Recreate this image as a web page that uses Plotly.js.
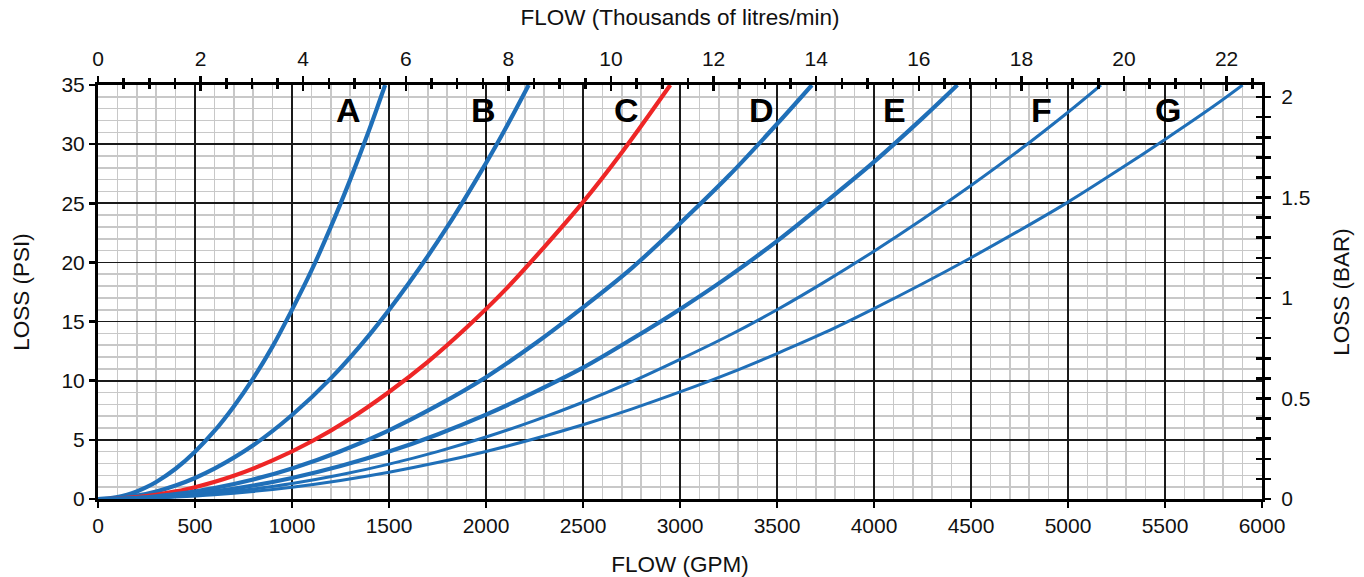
<!DOCTYPE html>
<html>
<head>
<meta charset="utf-8">
<script src="https://cdn.plot.ly/plotly-3.0.1.min.js"></script>
<style>html,body{margin:0;padding:0;background:#fff;}#chart{width:1364px;height:577px;}</style>
</head>
<body>
<div id="chart"></div>
<script>
// Flow (GPM) and pressure loss (PSI)
const curveNames = ["A", "B", "C", "D", "E", "F", "G"];
const flowA = [0, 50, 100, 150, 200, 250, 300, 400, 500, 600, 700, 800, 900, 1000, 1100, 1200, 1300, 1400, 1480];
const lossA = [0, 0.04, 0.16, 0.36, 0.64, 1.0, 1.44, 2.56, 4.0, 5.75, 7.83, 10.2, 12.9, 16.0, 19.3, 23.0, 27.0, 31.3, 35.0];
const flowB = [0, 100, 200, 300, 400, 500, 600, 800, 1000, 1200, 1400, 1600, 1800, 2000, 2100, 2220];
const lossB = [0, 0.07, 0.28, 0.64, 1.14, 1.78, 2.56, 4.54, 7.1, 10.2, 13.9, 18.2, 23.0, 28.4, 31.3, 35.0];
const flowC = [0, 100, 200, 300, 400, 500, 700, 900, 1100, 1300, 1500, 1700, 1900, 2100, 2300, 2500, 2700, 2950];
const lossC = [0, 0.04, 0.16, 0.36, 0.64, 1.0, 1.97, 3.26, 4.86, 6.79, 9.05, 11.6, 14.5, 17.7, 21.3, 25.1, 29.3, 35.0];
const flowD = [0, 100, 200, 300, 400, 600, 800, 1000, 1250, 1500, 1750, 2000, 2250, 2500, 2750, 3000, 3250, 3500, 3680];
const lossD = [0, 0.03, 0.10, 0.23, 0.41, 0.93, 1.65, 2.58, 4.04, 5.81, 7.91, 10.3, 13.1, 16.2, 19.5, 23.3, 27.3, 31.7, 35.0];
const flowE = [0, 100, 200, 300, 400, 600, 800, 1000, 1250, 1500, 1750, 2000, 2250, 2500, 2750, 3000, 3250, 3500, 3750, 4000, 4250, 4430];
const lossE = [0, 0.02, 0.07, 0.16, 0.29, 0.64, 1.14, 1.78, 2.79, 4.01, 5.46, 7.13, 9.03, 11.1, 13.5, 16.05, 18.8, 21.8, 25.1, 28.5, 32.2, 35.0];
const flowF = [0, 100, 200, 300, 400, 600, 800, 1000, 1250, 1500, 1750, 2000, 2250, 2500, 2750, 3000, 3250, 3500, 3750, 4000, 4250, 4500, 4750, 5000, 5170];
const lossF = [0, 0.01, 0.05, 0.12, 0.21, 0.47, 0.84, 1.31, 2.05, 2.95, 4.01, 5.24, 6.63, 8.18, 9.9, 11.8, 13.8, 16.0, 18.4, 20.95, 23.65, 26.5, 29.5, 32.7, 35.0];
const flowG = [0, 100, 200, 300, 400, 600, 800, 1000, 1250, 1500, 1750, 2000, 2250, 2500, 2750, 3000, 3250, 3500, 3750, 4000, 4250, 4500, 4750, 5000, 5250, 5500, 5750, 5900];
const lossG = [0, 0.01, 0.04, 0.09, 0.16, 0.36, 0.64, 1.0, 1.57, 2.26, 3.08, 4.02, 5.09, 6.28, 7.6, 9.05, 10.6, 12.3, 14.1, 16.1, 18.2, 20.4, 22.7, 25.1, 27.7, 30.4, 33.2, 35.0];
const curveColors = ["#1f6fb8", "#1f6fb8", "#ee2626", "#1f6fb8", "#1f6fb8", "#1f6fb8", "#1f6fb8"];
const curveWidths = [4.2, 4.2, 4.2, 4.2, 4.2, 3, 3];
// label positions (GPM, PSI)
const labelFlow = [1289, 1985, 2722, 3418, 4108, 4861, 5515];
const labelLoss = [32.9, 32.9, 32.9, 32.9, 32.9, 32.9, 32.9];

// axis extents as drawn on the reference
const GPM_MAX = 6000, PSI_MAX = 35;
const KLPM_MAX = 22.69;   // top axis (thousands of litres/min) at 6000 GPM
const BAR_MAX = 2.06;     // right axis (bar) at 35 PSI

const flows = [flowA, flowB, flowC, flowD, flowE, flowF, flowG];
const losses = [lossA, lossB, lossC, lossD, lossE, lossF, lossG];

const traces = curveNames.map((n, i) => ({
  type: "scatter", mode: "lines", name: n,
  x: flows[i], y: losses[i],
  line: {color: curveColors[i], width: curveWidths[i], shape: "spline", smoothing: 1},
  hoverinfo: "skip", xaxis: "x", yaxis: "y"
}));
const toK = v => v * KLPM_MAX / GPM_MAX;
const toBar = v => v * BAR_MAX / PSI_MAX;
const hidden = {color: "rgba(0,0,0,0)", width: 0};
// invisible traces so that the secondary axes are built
traces.push({type: "scatter", mode: "lines", x: flowG.map(toK), y: lossG.map(toBar), xaxis: "x2", yaxis: "y2", line: hidden, hoverinfo: "skip"});
traces.push({type: "scatter", mode: "lines", x: flowG.map(toK), y: lossG, xaxis: "x3", yaxis: "y", line: hidden, hoverinfo: "skip"});
traces.push({type: "scatter", mode: "lines", x: flowG, y: lossG.map(toBar), xaxis: "x", yaxis: "y3", line: hidden, hoverinfo: "skip"});

const FONT = "Liberation Sans, Arial, sans-serif";
const tickFont = {family: FONT, size: 21, color: "#111"};
const titleFont = {family: FONT, size: 22.5, color: "#111"};
const black = "#000";

const layout = {
  width: 1364, height: 577,
  margin: {l: 98, r: 102, t: 85, b: 78},
  paper_bgcolor: "#fff", plot_bgcolor: "#fff",
  showlegend: false,
  font: {family: FONT, size: 18, color: "#111"},
  xaxis: {
    range: [0, GPM_MAX], tick0: 0, dtick: 500,
    showgrid: true, gridcolor: "#1a1a1a", gridwidth: 1.7,
    minor: {dtick: 100, showgrid: true, gridcolor: "#c8c8c8", gridwidth: 1.6},
    showline: true, linecolor: black, linewidth: 3,
    ticks: "outside", ticklen: 6, tickwidth: 2.5, tickcolor: black,
    zeroline: false, tickfont: tickFont,
    title: {text: "FLOW (GPM)", font: titleFont, standoff: 21}
  },
  yaxis: {
    range: [0, PSI_MAX], tick0: 0, dtick: 5,
    showgrid: true, gridcolor: "#1a1a1a", gridwidth: 1.7,
    minor: {dtick: 1, showgrid: true, gridcolor: "#c8c8c8", gridwidth: 1.6},
    showline: true, linecolor: black, linewidth: 3,
    ticks: "outside", ticklen: 6, tickwidth: 2.5, tickcolor: black,
    zeroline: false, tickfont: tickFont,
    title: {text: "LOSS (PSI)", font: titleFont, standoff: 26}
  },
  xaxis2: {
    overlaying: "x", side: "top", anchor: "y",
    range: [0, KLPM_MAX], tick0: 0, dtick: 2,
    showgrid: false, zeroline: false,
    showline: true, linecolor: black, linewidth: 3,
    ticks: "outside", ticklen: 6, tickwidth: 2.5, tickcolor: black,
    minor: {dtick: 0.5, ticks: "outside", ticklen: 4, tickwidth: 2.5, tickcolor: black, showgrid: false},
    tickfont: tickFont, ticklabelstandoff: 2,
    title: {text: "FLOW (Thousands of litres/min)", font: titleFont, standoff: 15}
  },
  xaxis3: {
    overlaying: "x", side: "top", anchor: "y",
    range: [0, KLPM_MAX], tick0: 0, dtick: 2,
    showgrid: false, zeroline: false, showline: false, showticklabels: false,
    ticks: "inside", ticklen: 6, tickwidth: 2.5, tickcolor: black,
    minor: {dtick: 0.5, ticks: "inside", ticklen: 4, tickwidth: 2.5, tickcolor: black, showgrid: false}
  },
  yaxis2: {
    overlaying: "y", side: "right", anchor: "x",
    range: [0, BAR_MAX], tick0: 0, dtick: 0.5,
    showgrid: false, zeroline: false,
    showline: true, linecolor: black, linewidth: 3,
    ticks: "outside", ticklen: 6, tickwidth: 2.5, tickcolor: black,
    minor: {dtick: 0.1, ticks: "outside", ticklen: 6, tickwidth: 2.5, tickcolor: black, showgrid: false},
    tickfont: tickFont, ticklabelstandoff: 6,
    title: {text: "LOSS (BAR)", font: titleFont, standoff: 24}
  },
  yaxis3: {
    overlaying: "y", side: "right", anchor: "x",
    range: [0, BAR_MAX], tick0: 0, dtick: 0.5,
    showgrid: false, zeroline: false, showline: false, showticklabels: false,
    ticks: "inside", ticklen: 6, tickwidth: 2.5, tickcolor: black,
    minor: {dtick: 0.1, ticks: "inside", ticklen: 6, tickwidth: 2.5, tickcolor: black, showgrid: false}
  },
  annotations: curveNames.map((n, i) => ({
    x: labelFlow[i], y: labelLoss[i], xref: "x", yref: "y",
    text: n, showarrow: false, xanchor: "center", yanchor: "middle",
    font: {family: FONT, size: 34, color: black, weight: "bold"}
  }))
};

Plotly.newPlot("chart", traces, layout, {displayModeBar: false, staticPlot: true});
</script>
</body>
</html>
